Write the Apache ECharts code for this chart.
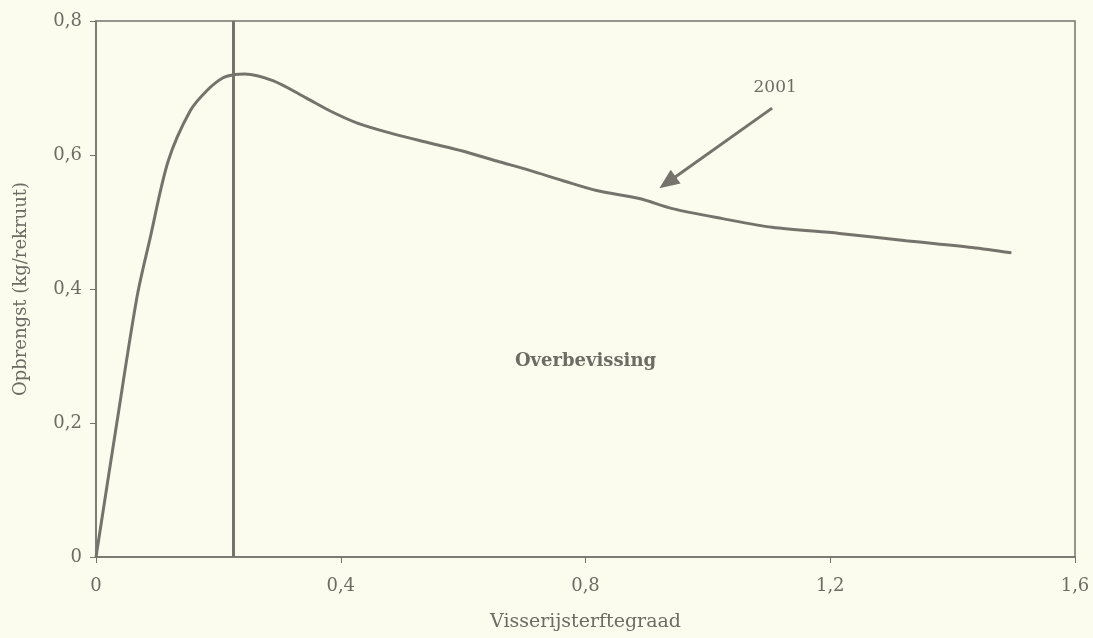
<!DOCTYPE html>
<html>
<head>
<meta charset="utf-8">
<script src="https://cdn.jsdelivr.net/npm/echarts@6/dist/echarts.min.js"></script>
<style>
  html, body { margin: 0; padding: 0; background: #fcfcee; }
  #main { width: 1093px; height: 638px; }
</style>
</head>
<body>
<div id="main"></div>
<script>
// visserijsterfte (F) en opbrengst per rekruut
var fValues = [0, 0.033, 0.067, 0.088, 0.118, 0.154, 0.181, 0.207, 0.227, 0.243, 0.289, 0.344, 0.382, 0.426, 0.48, 0.545, 0.599, 0.655, 0.709, 0.762, 0.818, 0.888, 0.942, 1.024, 1.105, 1.215, 1.324, 1.432, 1.496];
var yieldValues = [0, 0.194, 0.388, 0.474, 0.591, 0.666, 0.696, 0.715, 0.72, 0.721, 0.711, 0.685, 0.666, 0.648, 0.633, 0.618, 0.606, 0.591, 0.577, 0.562, 0.547, 0.535, 0.52, 0.505, 0.492, 0.483, 0.472, 0.462, 0.454];
var xTicks = [0, 0.4, 0.8, 1.2, 1.6];
var yTicks = [0, 0.2, 0.4, 0.6, 0.8];
var fRef = 0.224;            // verticale lijn
var arrowFrom = [1.105, 0.670];
var arrowTo = [0.934, 0.559];
var label2001 = [1.11, 0.70];
var labelOver = [0.8, 0.292];

var ink = '#75736b';
var textColor = '#6d6b63';
var font = 'DejaVu Serif';

function fmt (v) {
  if (v === 0) return '0';
  return (Math.round(v * 10) / 10).toFixed(1).replace('.', ',');
}

var data = fValues.map(function (f, i) { return [f, yieldValues[i]]; });

var myChart = echarts.init(document.getElementById('main'));
myChart.setOption({
  backgroundColor: '#fcfcee',
  animation: false,
  grid: {
    left: 96,
    right: 18,
    top: 21,
    bottom: 81,
    show: true,
    borderColor: ink,
    borderWidth: 1.5,
    backgroundColor: 'transparent'
  },
  xAxis: {
    type: 'value',
    min: xTicks[0],
    max: xTicks[xTicks.length - 1],
    interval: 0.4,
    name: 'Visserijsterftegraad',
    nameLocation: 'middle',
    nameGap: 56,
    nameTextStyle: { fontFamily: font, fontSize: 19, color: textColor },
    axisLine: { lineStyle: { color: ink, width: 1.5 } },
    axisTick: { show: true, length: 6, lineStyle: { color: ink } },
    axisLabel: { formatter: fmt, margin: 20, fontFamily: font, fontSize: 18, color: textColor },
    splitLine: { show: false }
  },
  yAxis: {
    type: 'value',
    min: yTicks[0],
    max: yTicks[yTicks.length - 1],
    interval: 0.2,
    name: 'Opbrengst (kg/rekruut)',
    nameLocation: 'middle',
    nameGap: 66,
    nameTextStyle: { fontFamily: font, fontSize: 18, color: textColor },
    axisLine: { show: true, lineStyle: { color: ink, width: 1.5 } },
    axisTick: { show: true, length: 6, lineStyle: { color: ink } },
    axisLabel: { formatter: fmt, margin: 14, fontFamily: font, fontSize: 18, color: textColor },
    splitLine: { show: false }
  },
  series: [
    {
      type: 'line',
      data: data,
      smooth: 0.3,
      showSymbol: false,
      lineStyle: { color: ink, width: 3 },
      markLine: {
        silent: true,
        animation: false,
        label: { show: false },
        data: [
          [
            { coord: [fRef, 0], symbol: 'none' },
            { coord: [fRef, 0.8], symbol: 'none' }
          ],
          [
            { coord: arrowFrom, symbol: 'none' },
            { coord: arrowTo, symbol: 'triangle', symbolSize: [17, 20] }
          ]
        ],
        lineStyle: { color: ink, width: 3, type: 'solid' }
      },
      markPoint: {
        silent: true,
        symbol: 'circle',
        symbolSize: 0,
        data: [
          {
            coord: label2001,
            label: { show: true, position: 'inside', formatter: '2001', fontFamily: font, fontSize: 17, color: textColor }
          },
          {
            coord: labelOver,
            label: { show: true, position: 'inside', formatter: 'Overbevissing', fontFamily: font, fontWeight: 'bold', fontSize: 18, color: textColor }
          }
        ]
      }
    }
  ]
});
</script>
</body>
</html>
